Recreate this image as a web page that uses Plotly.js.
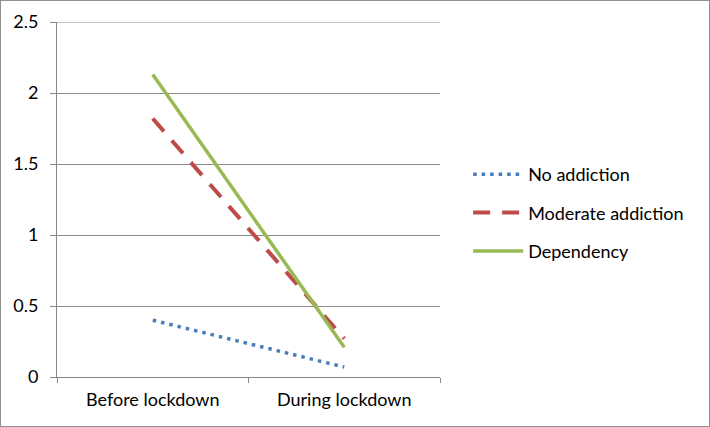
<!DOCTYPE html>
<html>
<head>
<meta charset="utf-8">
<script src="https://cdn.plot.ly/plotly-3.0.1.min.js"></script>
<style>
html,body{margin:0;padding:0;background:#fff;}
#wrap{width:710px;height:427px;box-sizing:border-box;border:1px solid #8f8f8f;}
#chart{width:708px;height:425px;}
</style>
</head>
<body>
<div id="wrap"><div id="chart"></div></div>
<script>
var categories = ["Before lockdown", "During lockdown"];
var noAddiction = [0.40, 0.07];
var moderateAddiction = [1.82, 0.27];
var dependency = [2.13, 0.21];
var yTicks = [0, 0.5, 1, 1.5, 2, 2.5];
var yTickLabels = ["0", "0.5", "1", "1.5", "2", "2.5"];

var font = "Lato, Open Sans, sans-serif";
var traces = [
  {x: categories, y: noAddiction, name: "No addiction", type: "scatter", mode: "lines", legendgroup: "a",
   line: {color: "#4a7ebb", width: 3.5, dash: "3.5px,5px"}},
  {x: categories, y: moderateAddiction, name: "Moderate addiction", type: "scatter", mode: "lines", legendgroup: "b",
   line: {color: "#be4b48", width: 4, dash: "17px,12px"}},
  {x: categories, y: dependency, name: "Dependency", type: "scatter", mode: "lines", legendgroup: "c",
   line: {color: "#98b954", width: 3.5}}
];
var layout = {
  width: 708, height: 425,
  margin: {l: 56, r: 269, t: 21, b: 49},
  paper_bgcolor: "#fff", plot_bgcolor: "#fff",
  showlegend: true,
  font: {family: font, size: 18, color: "#000"},
  xaxis: {
    type: "category", range: [-0.5, 1.5], tickson: "boundaries",
    showgrid: false, showline: true, linecolor: "#888", linewidth: 1,
    ticks: "outside", ticklen: 5, tickcolor: "#888", ticklabelstandoff: 6,
    tickfont: {family: font, size: 18, color: "#000"}, zeroline: false
  },
  yaxis: {
    range: [0, 2.5], tickvals: yTicks, ticktext: yTickLabels,
    showgrid: true, gridcolor: "#8c8c8c", gridwidth: 1,
    showline: true, linecolor: "#888", linewidth: 1,
    ticks: "outside", ticklen: 6, tickcolor: "#888", ticklabelstandoff: 8,
    tickfont: {family: font, size: 18, color: "#000"}, zeroline: false
  },
  shapes: [
    {type: "line", xref: "paper", yref: "y", x0: 0, x1: 1, y0: 2.5, y1: 2.5,
     line: {color: "#8c8c8c", width: 1}, layer: "below"}
  ],
  legend: {
    x: 1.0735, xanchor: "left", xref: "paper", y: 0.462, yanchor: "middle",
    font: {family: font, size: 18, color: "#000"},
    itemwidth: 50, tracegroupgap: 12, bgcolor: "rgba(0,0,0,0)"
  }
};
Plotly.newPlot("chart", traces, layout, {displayModeBar: false, staticPlot: true});
</script>
</body>
</html>
